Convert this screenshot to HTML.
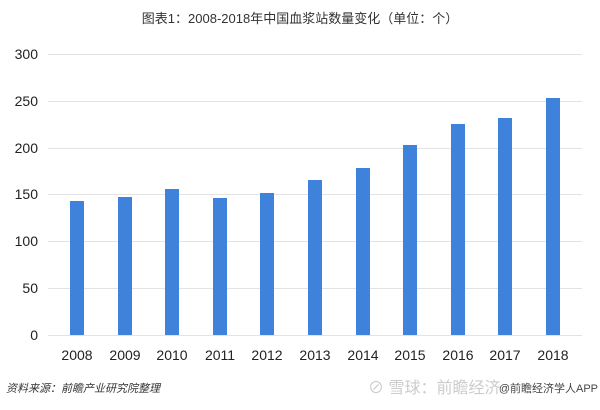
<!DOCTYPE html>
<html><head><meta charset="utf-8"><style>
body{margin:0;background:#fff;font-family:"Liberation Sans","Noto Sans CJK SC",sans-serif;}
</style></head><body>
<svg width="600" height="405" xmlns="http://www.w3.org/2000/svg" font-family="Liberation Sans, Noto Sans CJK SC, sans-serif">
<rect width="600" height="405" fill="#fff"/>
<text x="300" y="23" text-anchor="middle" font-size="13" fill="#333">图表1：2008-2018年中国血浆站数量变化（单位：个）</text>
<g stroke="#e3e3e3" stroke-width="1">
<line x1="48" x2="582" y1="54.5" y2="54.5"/>
<line x1="48" x2="582" y1="101.5" y2="101.5"/>
<line x1="48" x2="582" y1="148.5" y2="148.5"/>
<line x1="48" x2="582" y1="194.5" y2="194.5"/>
<line x1="48" x2="582" y1="241.5" y2="241.5"/>
<line x1="48" x2="582" y1="288.5" y2="288.5"/>
<line x1="48" x2="582" y1="335.5" y2="335.5"/>
</g>
<g font-size="14" fill="#222" text-anchor="end">
<text x="38" y="59">300</text><text x="38" y="106">250</text><text x="38" y="153">200</text>
<text x="38" y="199">150</text><text x="38" y="246">100</text><text x="38" y="293">50</text><text x="38" y="340">0</text>
</g>
<g fill="#3f82dc">
<rect x="70" y="201" width="14" height="134"/>
<rect x="118" y="197" width="14" height="138"/>
<rect x="165" y="189" width="14" height="146"/>
<rect x="213" y="198" width="14" height="137"/>
<rect x="260" y="193" width="14" height="142"/>
<rect x="308" y="180" width="14" height="155"/>
<rect x="356" y="168" width="14" height="167"/>
<rect x="403" y="145" width="14" height="190"/>
<rect x="451" y="124" width="14" height="211"/>
<rect x="498" y="118" width="14" height="217"/>
<rect x="546" y="98" width="14" height="237"/>
</g>
<g font-size="14" fill="#222" text-anchor="middle">
<text x="77" y="360">2008</text><text x="125" y="360">2009</text><text x="172" y="360">2010</text>
<text x="220" y="360">2011</text><text x="267" y="360">2012</text><text x="315" y="360">2013</text>
<text x="363" y="360">2014</text><text x="410" y="360">2015</text><text x="458" y="360">2016</text>
<text x="505" y="360">2017</text><text x="553" y="360">2018</text>
</g>
<text x="6" y="392" font-size="11" font-style="italic" fill="#333">资料来源：前瞻产业研究院整理</text>
<text x="368" y="393" font-size="16" fill="#ccc">⊘ 雪球：前瞻经济</text>
<text x="598" y="392" font-size="11" fill="#444" text-anchor="end">@前瞻经济学人APP</text>
</svg>
</body></html>
